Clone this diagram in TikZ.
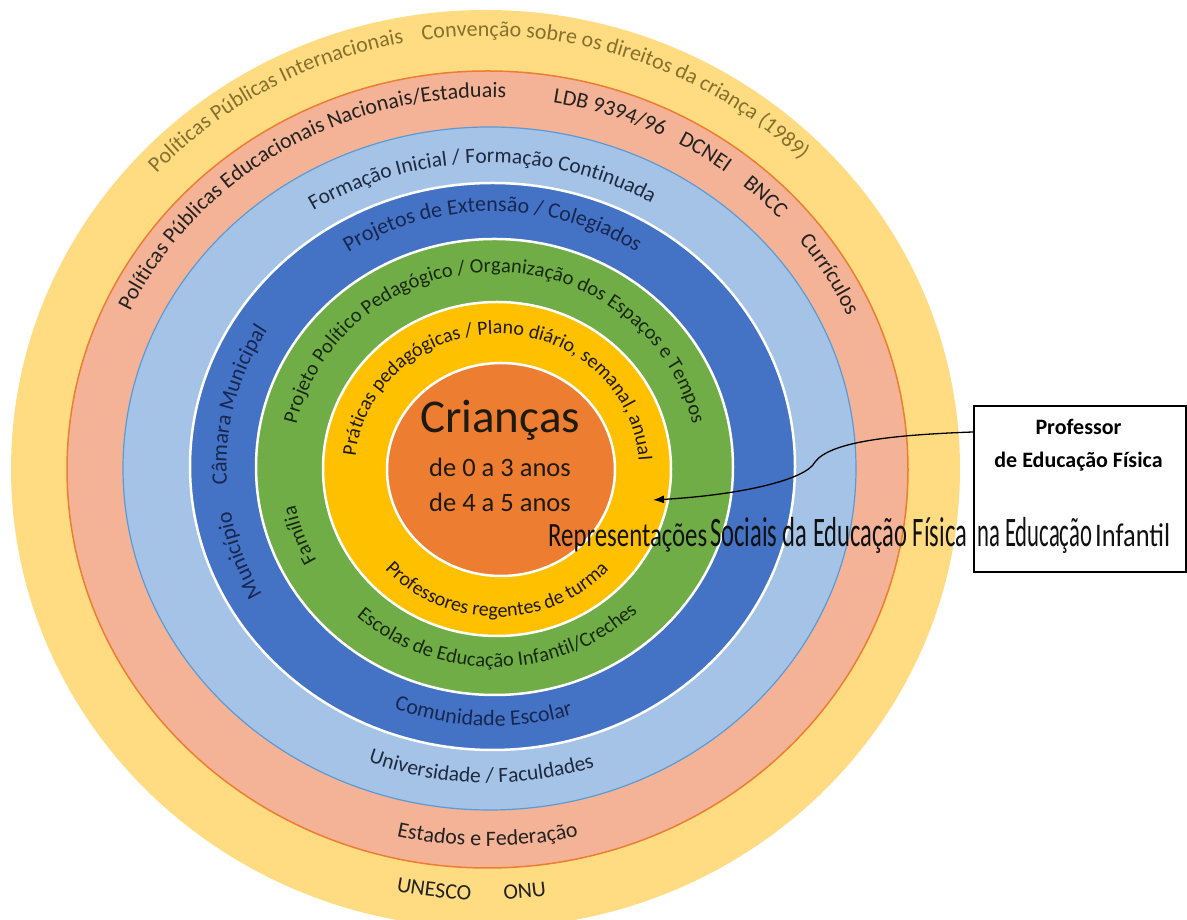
\documentclass[tikz,border=0pt]{standalone}
\usepackage{fontspec}
\setmainfont{Carlito}
\usepackage{graphicx}
\usetikzlibrary{decorations.text,arrows.meta}

\definecolor{cOut}{HTML}{FFDC82}
\definecolor{cSal}{HTML}{F4B396}
\definecolor{cSalLine}{HTML}{ED7D31}
\definecolor{cLb}{HTML}{A5C3E6}
\definecolor{cLbLine}{HTML}{5B9BD5}
\definecolor{cDb}{HTML}{4472C4}
\definecolor{cGr}{HTML}{70AD47}
\definecolor{cYe}{HTML}{FFC000}
\definecolor{cOr}{HTML}{ED7D31}
\definecolor{tOut}{HTML}{85712C}
\definecolor{tSal}{HTML}{222222}
\definecolor{tLb}{HTML}{1E2A40}
\definecolor{tDb}{HTML}{172750}
\definecolor{tGr}{HTML}{18290F}
\definecolor{tYe}{HTML}{1E1A10}
\definecolor{tBig}{HTML}{111111}

\newcommand\fOut{\fontsize{22}{26}\selectfont\color{tOut}}
\newcommand\fSal{\fontsize{22}{26}\selectfont\color{tSal}}
\newcommand\fLb{\fontsize{21.5}{26}\selectfont\color{tLb}}
\newcommand\fDb{\fontsize{22}{26}\selectfont\color{tDb}}
\newcommand\fGr{\fontsize{20.5}{24}\selectfont\color{tGr}}
\newcommand\fYe{\fontsize{20}{24}\selectfont\color{tYe}}

% cx, cy, rx, ry, start angle, end angle, format, text
\newcommand{\arcTxt}[8]{%
  \path[decorate,decoration={text along path,text align=center,text={|#7|#8}}]
    ([shift={(#1,#2)}]#5:#3pt and #4pt) arc[start angle=#5,end angle=#6,x radius=#3pt,y radius=#4pt];}

\tikzset{
  whitering/.style={draw=white,line width=2.5pt},
  bigtxt/.style={anchor=base west,inner sep=0pt,text=tBig},
  boxtxt/.style={anchor=base,inner sep=0pt,font=\bfseries\fontsize{22}{22}\selectfont},
  pointer/.style={draw=black,line width=1.3pt,-{Latex[length=11pt,width=8pt]}},
  centertxt/.style={anchor=base,inner sep=0pt,text=tYe}
}

\begin{document}
\begin{tikzpicture}[x=1pt,y=1pt]
\useasboundingbox (0,0) rectangle (1187,920);
\fill[white] (0,0) rectangle (1187,920);
\clip (0,0) rectangle (1187,920);

% rings
\fill[cOut] (485.5,451) ellipse [x radius=474.5pt, y radius=459pt];
\filldraw[fill=cSal, draw=cSalLine, line width=1.5pt] (487.5,450.5) ellipse [x radius=420.5pt, y radius=398.5pt];
\filldraw[fill=cLb, draw=cLbLine, line width=1.2pt] (489.5,451.5) ellipse [x radius=366.5pt, y radius=341.5pt];
\filldraw[fill=cDb, whitering] (492.5,453.5) ellipse [x radius=302.5pt, y radius=283.5pt];
\filldraw[fill=cGr, whitering] (494.5,453) ellipse [x radius=238.5pt, y radius=228pt];
\filldraw[fill=cYe, whitering] (497,451) ellipse [x radius=174pt, y radius=167pt];
\filldraw[fill=cOr, whitering] (501,450.5) ellipse [x radius=114pt, y radius=106.5pt];

% outer ring texts
\arcTxt{485.5}{451}{450}{433}{160}{78}{\fOut}{Políticas Públicas Internacionais}
\arcTxt{485.5}{451}{450}{433}{121.5}{21.5}{\fOut}{Convenção sobre os direitos da criança (1989)}
\arcTxt{485.5}{451}{452}{431}{233.3}{293.3}{\fSal}{UNESCO}
\arcTxt{485.5}{451}{452}{431}{245.1}{305.1}{\fSal}{ONU}

% salmon ring texts
\arcTxt{487.5}{450.5}{395}{372}{171.5}{71.5}{\fSal}{Políticas Públicas Educacionais Nacionais/Estaduais}
\arcTxt{487.5}{450.5}{395}{372}{92}{52}{\fSal}{LDB 9394/96}
\arcTxt{487.5}{450.5}{395}{372}{72}{42}{\fSal}{DCNEI}
\arcTxt{487.5}{450.5}{395}{372}{61}{31}{\fSal}{BNCC}
\arcTxt{487.5}{450.5}{395}{372}{51}{11}{\fSal}{Currículos}
\arcTxt{487.5}{450.5}{400}{376.5}{240}{300}{\fSal}{Estados e Federação}

% light blue ring texts
\arcTxt{489.5}{451.5}{328}{305.5}{151.5}{31.5}{\fLb}{Formação Inicial / Formação Continuada}
\arcTxt{489.5}{451.5}{337}{314.5}{228.5}{308.5}{\fLb}{Universidade / Faculdades}

% dark blue ring texts
\arcTxt{492.5}{453.5}{266}{255}{140}{40}{\fDb}{Projetos de Extensão / Colegiados}
\arcTxt{492.5}{453.5}{266}{255}{196}{136}{\fDb}{Câmara Municipal}
\arcTxt{492.5}{453.5}{266}{255}{220}{180}{\fDb}{Município}
\arcTxt{492.5}{453.5}{274}{259.5}{238}{298}{\fDb}{Comunidade Escolar}

% green ring texts
\arcTxt{494.5}{453}{203}{195}{185}{-5}{\fGr}{Projeto Político Pedagógico / Organização dos Espaços e Tempos}
\arcTxt{494.5}{453}{203}{195}{220}{180}{\fGr}{Família}
\arcTxt{494.5}{453}{208}{200}{216}{326}{\fGr}{Escolas de Educação Infantil/Creches}

% yellow ring texts
\arcTxt{497}{451}{142}{135}{189}{-11}{\fYe}{Práticas pedagógicas / Plano diário, semanal, anual}
\arcTxt{497}{451}{153}{148}{215}{325}{\fYe}{Professores regentes de turma}

% centre
\node[centertxt, font=\fontsize{47}{47}\selectfont] (cri) at (500,487) {Crianças};
\node[centertxt, font=\fontsize{26.5}{26.5}\selectfont] (age1) at (500,443) {de 0 a 3 anos};
\node[centertxt, font=\fontsize{26.5}{26.5}\selectfont] (age2) at (500,408) {de 4 a 5 anos};

% box
\node[draw=black, line width=2pt, fill=white, minimum width=212pt, minimum height=166pt, inner sep=0pt, anchor=south west] (box) at (973,347) {};
\node[boxtxt] (prof1) at (1078.5,485) {Professor};
\node[boxtxt] (prof2) at (1078.5,452) {de Educação Física};

% big title text
\node[bigtxt] (rep1) at (548,373) {\resizebox{159pt}{\height}{\fontsize{34}{34}\selectfont Representações}};
\node[bigtxt] (rep2) at (710,373) {\resizebox{257pt}{\height}{\fontsize{42}{42}\selectfont Sociais da Educação Física}};
\node[bigtxt] (rep3) at (977,373) {\resizebox{115pt}{\height}{\fontsize{42}{42}\selectfont na Educação}};
\node[bigtxt] (rep4) at (1095,373) {\resizebox{75pt}{\height}{\fontsize{33}{33}\selectfont Infantil}};

% arrow
\coordinate (atip) at (653,420);
\draw[pointer] ([yshift=-27pt]box.north west) .. controls (890,485) and (830,478) .. (815,458) .. controls (806,440) and (740,425) .. (atip);
\end{tikzpicture}
\end{document}
